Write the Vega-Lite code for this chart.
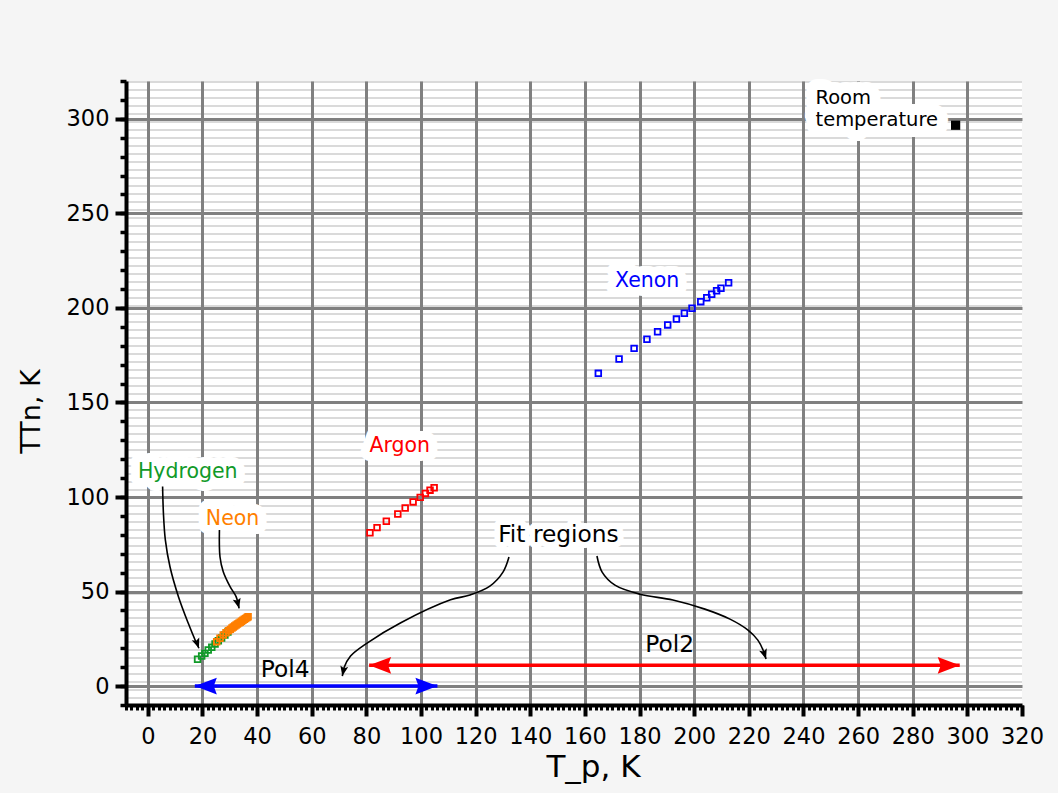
{
"$schema": "https://vega.github.io/schema/vega-lite/v6.json",
"width": 896, "height": 624,
"autosize": {"type": "none"},
"padding": {"left": 126, "top": 81, "right": 36, "bottom": 88},
"background": "#f5f5f5",
"view": {"stroke": null, "fill": {"gradient": "linear", "x1": 0, "y1": 0, "x2": 0, "y2": 1, "stops": [
{"offset":0,"color":"#dadada"},{"offset":0.00321,"color":"#dadada"},{"offset":0.00321,"color":"#fff"},{"offset":0.01282,"color":"#fff"},
{"offset":0.01282,"color":"#dadada"},{"offset":0.01603,"color":"#dadada"},{"offset":0.01603,"color":"#fff"},{"offset":0.02564,"color":"#fff"},
{"offset":0.02564,"color":"#dadada"},{"offset":0.02885,"color":"#dadada"},{"offset":0.02885,"color":"#fff"},{"offset":0.03846,"color":"#fff"},
{"offset":0.03846,"color":"#dadada"},{"offset":0.04167,"color":"#dadada"},{"offset":0.04167,"color":"#fff"},{"offset":0.05128,"color":"#fff"},
{"offset":0.05128,"color":"#dadada"},{"offset":0.05449,"color":"#dadada"},{"offset":0.05449,"color":"#fff"},{"offset":0.0641,"color":"#fff"},
{"offset":0.0641,"color":"#dadada"},{"offset":0.06731,"color":"#dadada"},{"offset":0.06731,"color":"#fff"},{"offset":0.07692,"color":"#fff"},
{"offset":0.07692,"color":"#dadada"},{"offset":0.08013,"color":"#dadada"},{"offset":0.08013,"color":"#fff"},{"offset":0.08974,"color":"#fff"},
{"offset":0.08974,"color":"#dadada"},{"offset":0.09295,"color":"#dadada"},{"offset":0.09295,"color":"#fff"},{"offset":0.10256,"color":"#fff"},
{"offset":0.10256,"color":"#dadada"},{"offset":0.10577,"color":"#dadada"},{"offset":0.10577,"color":"#fff"},{"offset":0.11538,"color":"#fff"},
{"offset":0.11538,"color":"#dadada"},{"offset":0.11859,"color":"#dadada"},{"offset":0.11859,"color":"#fff"},{"offset":0.12821,"color":"#fff"},
{"offset":0.12821,"color":"#dadada"},{"offset":0.13141,"color":"#dadada"},{"offset":0.13141,"color":"#fff"},{"offset":0.14103,"color":"#fff"},
{"offset":0.14103,"color":"#dadada"},{"offset":0.14423,"color":"#dadada"},{"offset":0.14423,"color":"#fff"},{"offset":0.15385,"color":"#fff"},
{"offset":0.15385,"color":"#dadada"},{"offset":0.15705,"color":"#dadada"},{"offset":0.15705,"color":"#fff"},{"offset":0.16667,"color":"#fff"},
{"offset":0.16667,"color":"#dadada"},{"offset":0.16987,"color":"#dadada"},{"offset":0.16987,"color":"#fff"},{"offset":0.17949,"color":"#fff"},
{"offset":0.17949,"color":"#dadada"},{"offset":0.18269,"color":"#dadada"},{"offset":0.18269,"color":"#fff"},{"offset":0.19231,"color":"#fff"},
{"offset":0.19231,"color":"#dadada"},{"offset":0.19551,"color":"#dadada"},{"offset":0.19551,"color":"#fff"},{"offset":0.20513,"color":"#fff"},
{"offset":0.20513,"color":"#dadada"},{"offset":0.20833,"color":"#dadada"},{"offset":0.20833,"color":"#fff"},{"offset":0.21795,"color":"#fff"},
{"offset":0.21795,"color":"#dadada"},{"offset":0.22115,"color":"#dadada"},{"offset":0.22115,"color":"#fff"},{"offset":0.23077,"color":"#fff"},
{"offset":0.23077,"color":"#dadada"},{"offset":0.23397,"color":"#dadada"},{"offset":0.23397,"color":"#fff"},{"offset":0.24359,"color":"#fff"},
{"offset":0.24359,"color":"#dadada"},{"offset":0.24679,"color":"#dadada"},{"offset":0.24679,"color":"#fff"},{"offset":0.25641,"color":"#fff"},
{"offset":0.25641,"color":"#dadada"},{"offset":0.25962,"color":"#dadada"},{"offset":0.25962,"color":"#fff"},{"offset":0.26923,"color":"#fff"},
{"offset":0.26923,"color":"#dadada"},{"offset":0.27244,"color":"#dadada"},{"offset":0.27244,"color":"#fff"},{"offset":0.28205,"color":"#fff"},
{"offset":0.28205,"color":"#dadada"},{"offset":0.28526,"color":"#dadada"},{"offset":0.28526,"color":"#fff"},{"offset":0.29487,"color":"#fff"},
{"offset":0.29487,"color":"#dadada"},{"offset":0.29808,"color":"#dadada"},{"offset":0.29808,"color":"#fff"},{"offset":0.30769,"color":"#fff"},
{"offset":0.30769,"color":"#dadada"},{"offset":0.3109,"color":"#dadada"},{"offset":0.3109,"color":"#fff"},{"offset":0.32051,"color":"#fff"},
{"offset":0.32051,"color":"#dadada"},{"offset":0.32372,"color":"#dadada"},{"offset":0.32372,"color":"#fff"},{"offset":0.33333,"color":"#fff"},
{"offset":0.33333,"color":"#dadada"},{"offset":0.33654,"color":"#dadada"},{"offset":0.33654,"color":"#fff"},{"offset":0.34615,"color":"#fff"},
{"offset":0.34615,"color":"#dadada"},{"offset":0.34936,"color":"#dadada"},{"offset":0.34936,"color":"#fff"},{"offset":0.35897,"color":"#fff"},
{"offset":0.35897,"color":"#dadada"},{"offset":0.36218,"color":"#dadada"},{"offset":0.36218,"color":"#fff"},{"offset":0.37179,"color":"#fff"},
{"offset":0.37179,"color":"#dadada"},{"offset":0.375,"color":"#dadada"},{"offset":0.375,"color":"#fff"},{"offset":0.38462,"color":"#fff"},
{"offset":0.38462,"color":"#dadada"},{"offset":0.38782,"color":"#dadada"},{"offset":0.38782,"color":"#fff"},{"offset":0.39744,"color":"#fff"},
{"offset":0.39744,"color":"#dadada"},{"offset":0.40064,"color":"#dadada"},{"offset":0.40064,"color":"#fff"},{"offset":0.41026,"color":"#fff"},
{"offset":0.41026,"color":"#dadada"},{"offset":0.41346,"color":"#dadada"},{"offset":0.41346,"color":"#fff"},{"offset":0.42308,"color":"#fff"},
{"offset":0.42308,"color":"#dadada"},{"offset":0.42628,"color":"#dadada"},{"offset":0.42628,"color":"#fff"},{"offset":0.4359,"color":"#fff"},
{"offset":0.4359,"color":"#dadada"},{"offset":0.4391,"color":"#dadada"},{"offset":0.4391,"color":"#fff"},{"offset":0.44872,"color":"#fff"},
{"offset":0.44872,"color":"#dadada"},{"offset":0.45192,"color":"#dadada"},{"offset":0.45192,"color":"#fff"},{"offset":0.46154,"color":"#fff"},
{"offset":0.46154,"color":"#dadada"},{"offset":0.46474,"color":"#dadada"},{"offset":0.46474,"color":"#fff"},{"offset":0.47436,"color":"#fff"},
{"offset":0.47436,"color":"#dadada"},{"offset":0.47756,"color":"#dadada"},{"offset":0.47756,"color":"#fff"},{"offset":0.48718,"color":"#fff"},
{"offset":0.48718,"color":"#dadada"},{"offset":0.49038,"color":"#dadada"},{"offset":0.49038,"color":"#fff"},{"offset":0.5,"color":"#fff"},
{"offset":0.5,"color":"#dadada"},{"offset":0.50321,"color":"#dadada"},{"offset":0.50321,"color":"#fff"},{"offset":0.51282,"color":"#fff"},
{"offset":0.51282,"color":"#dadada"},{"offset":0.51603,"color":"#dadada"},{"offset":0.51603,"color":"#fff"},{"offset":0.52564,"color":"#fff"},
{"offset":0.52564,"color":"#dadada"},{"offset":0.52885,"color":"#dadada"},{"offset":0.52885,"color":"#fff"},{"offset":0.53846,"color":"#fff"},
{"offset":0.53846,"color":"#dadada"},{"offset":0.54167,"color":"#dadada"},{"offset":0.54167,"color":"#fff"},{"offset":0.55128,"color":"#fff"},
{"offset":0.55128,"color":"#dadada"},{"offset":0.55449,"color":"#dadada"},{"offset":0.55449,"color":"#fff"},{"offset":0.5641,"color":"#fff"},
{"offset":0.5641,"color":"#dadada"},{"offset":0.56731,"color":"#dadada"},{"offset":0.56731,"color":"#fff"},{"offset":0.57692,"color":"#fff"},
{"offset":0.57692,"color":"#dadada"},{"offset":0.58013,"color":"#dadada"},{"offset":0.58013,"color":"#fff"},{"offset":0.58974,"color":"#fff"},
{"offset":0.58974,"color":"#dadada"},{"offset":0.59295,"color":"#dadada"},{"offset":0.59295,"color":"#fff"},{"offset":0.60256,"color":"#fff"},
{"offset":0.60256,"color":"#dadada"},{"offset":0.60577,"color":"#dadada"},{"offset":0.60577,"color":"#fff"},{"offset":0.61538,"color":"#fff"},
{"offset":0.61538,"color":"#dadada"},{"offset":0.61859,"color":"#dadada"},{"offset":0.61859,"color":"#fff"},{"offset":0.62821,"color":"#fff"},
{"offset":0.62821,"color":"#dadada"},{"offset":0.63141,"color":"#dadada"},{"offset":0.63141,"color":"#fff"},{"offset":0.64103,"color":"#fff"},
{"offset":0.64103,"color":"#dadada"},{"offset":0.64423,"color":"#dadada"},{"offset":0.64423,"color":"#fff"},{"offset":0.65385,"color":"#fff"},
{"offset":0.65385,"color":"#dadada"},{"offset":0.65705,"color":"#dadada"},{"offset":0.65705,"color":"#fff"},{"offset":0.66667,"color":"#fff"},
{"offset":0.66667,"color":"#dadada"},{"offset":0.66987,"color":"#dadada"},{"offset":0.66987,"color":"#fff"},{"offset":0.67949,"color":"#fff"},
{"offset":0.67949,"color":"#dadada"},{"offset":0.68269,"color":"#dadada"},{"offset":0.68269,"color":"#fff"},{"offset":0.69231,"color":"#fff"},
{"offset":0.69231,"color":"#dadada"},{"offset":0.69551,"color":"#dadada"},{"offset":0.69551,"color":"#fff"},{"offset":0.70513,"color":"#fff"},
{"offset":0.70513,"color":"#dadada"},{"offset":0.70833,"color":"#dadada"},{"offset":0.70833,"color":"#fff"},{"offset":0.71795,"color":"#fff"},
{"offset":0.71795,"color":"#dadada"},{"offset":0.72115,"color":"#dadada"},{"offset":0.72115,"color":"#fff"},{"offset":0.73077,"color":"#fff"},
{"offset":0.73077,"color":"#dadada"},{"offset":0.73397,"color":"#dadada"},{"offset":0.73397,"color":"#fff"},{"offset":0.74359,"color":"#fff"},
{"offset":0.74359,"color":"#dadada"},{"offset":0.74679,"color":"#dadada"},{"offset":0.74679,"color":"#fff"},{"offset":0.75641,"color":"#fff"},
{"offset":0.75641,"color":"#dadada"},{"offset":0.75962,"color":"#dadada"},{"offset":0.75962,"color":"#fff"},{"offset":0.76923,"color":"#fff"},
{"offset":0.76923,"color":"#dadada"},{"offset":0.77244,"color":"#dadada"},{"offset":0.77244,"color":"#fff"},{"offset":0.78205,"color":"#fff"},
{"offset":0.78205,"color":"#dadada"},{"offset":0.78526,"color":"#dadada"},{"offset":0.78526,"color":"#fff"},{"offset":0.79487,"color":"#fff"},
{"offset":0.79487,"color":"#dadada"},{"offset":0.79808,"color":"#dadada"},{"offset":0.79808,"color":"#fff"},{"offset":0.80769,"color":"#fff"},
{"offset":0.80769,"color":"#dadada"},{"offset":0.8109,"color":"#dadada"},{"offset":0.8109,"color":"#fff"},{"offset":0.82051,"color":"#fff"},
{"offset":0.82051,"color":"#dadada"},{"offset":0.82372,"color":"#dadada"},{"offset":0.82372,"color":"#fff"},{"offset":0.83333,"color":"#fff"},
{"offset":0.83333,"color":"#dadada"},{"offset":0.83654,"color":"#dadada"},{"offset":0.83654,"color":"#fff"},{"offset":0.84615,"color":"#fff"},
{"offset":0.84615,"color":"#dadada"},{"offset":0.84936,"color":"#dadada"},{"offset":0.84936,"color":"#fff"},{"offset":0.85897,"color":"#fff"},
{"offset":0.85897,"color":"#dadada"},{"offset":0.86218,"color":"#dadada"},{"offset":0.86218,"color":"#fff"},{"offset":0.87179,"color":"#fff"},
{"offset":0.87179,"color":"#dadada"},{"offset":0.875,"color":"#dadada"},{"offset":0.875,"color":"#fff"},{"offset":0.88462,"color":"#fff"},
{"offset":0.88462,"color":"#dadada"},{"offset":0.88782,"color":"#dadada"},{"offset":0.88782,"color":"#fff"},{"offset":0.89744,"color":"#fff"},
{"offset":0.89744,"color":"#dadada"},{"offset":0.90064,"color":"#dadada"},{"offset":0.90064,"color":"#fff"},{"offset":0.91026,"color":"#fff"},
{"offset":0.91026,"color":"#dadada"},{"offset":0.91346,"color":"#dadada"},{"offset":0.91346,"color":"#fff"},{"offset":0.92308,"color":"#fff"},
{"offset":0.92308,"color":"#dadada"},{"offset":0.92628,"color":"#dadada"},{"offset":0.92628,"color":"#fff"},{"offset":0.9359,"color":"#fff"},
{"offset":0.9359,"color":"#dadada"},{"offset":0.9391,"color":"#dadada"},{"offset":0.9391,"color":"#fff"},{"offset":0.94872,"color":"#fff"},
{"offset":0.94872,"color":"#dadada"},{"offset":0.95192,"color":"#dadada"},{"offset":0.95192,"color":"#fff"},{"offset":0.96154,"color":"#fff"},
{"offset":0.96154,"color":"#dadada"},{"offset":0.96474,"color":"#dadada"},{"offset":0.96474,"color":"#fff"},{"offset":0.97436,"color":"#fff"},
{"offset":0.97436,"color":"#dadada"},{"offset":0.97756,"color":"#dadada"},{"offset":0.97756,"color":"#fff"},{"offset":0.98718,"color":"#fff"},
{"offset":0.98718,"color":"#dadada"},{"offset":0.99038,"color":"#dadada"},{"offset":0.99038,"color":"#fff"},{"offset":1,"color":"#fff"}
]}},
"config": {"font": "DejaVu Sans", "axis": {"labelFont": "DejaVu Sans", "titleFont": "DejaVu Sans"}},
"datasets": {
"points": [
{"gas":"Hydrogen","Tp":18.2,"Tn":14.2},{"gas":"Hydrogen","Tp":19.7,"Tn":15.9},{"gas":"Hydrogen","Tp":20.9,"Tn":17.3},{"gas":"Hydrogen","Tp":22.1,"Tn":19.1},{"gas":"Hydrogen","Tp":23.4,"Tn":20.5},{"gas":"Hydrogen","Tp":24.6,"Tn":22.3},{"gas":"Hydrogen","Tp":25.8,"Tn":24.0},{"gas":"Hydrogen","Tp":27.0,"Tn":25.4},{"gas":"Hydrogen","Tp":28.2,"Tn":27.0},{"gas":"Hydrogen","Tp":29.3,"Tn":28.6},
{"gas":"Neon","Tp":25.2,"Tn":23.5},{"gas":"Neon","Tp":26.4,"Tn":25.3},{"gas":"Neon","Tp":27.6,"Tn":27.0},{"gas":"Neon","Tp":28.6,"Tn":28.2},{"gas":"Neon","Tp":29.5,"Tn":29.3},{"gas":"Neon","Tp":30.2,"Tn":30.0},{"gas":"Neon","Tp":30.8,"Tn":30.7},{"gas":"Neon","Tp":31.3,"Tn":31.2},{"gas":"Neon","Tp":31.8,"Tn":31.8},{"gas":"Neon","Tp":32.3,"Tn":32.3},{"gas":"Neon","Tp":32.8,"Tn":32.8},{"gas":"Neon","Tp":33.3,"Tn":33.3},{"gas":"Neon","Tp":33.8,"Tn":33.8},{"gas":"Neon","Tp":34.3,"Tn":34.3},{"gas":"Neon","Tp":34.8,"Tn":34.8},{"gas":"Neon","Tp":35.3,"Tn":35.3},{"gas":"Neon","Tp":35.8,"Tn":35.8},{"gas":"Neon","Tp":36.3,"Tn":36.3},{"gas":"Neon","Tp":36.7,"Tn":36.7},
{"gas":"Argon","Tp":81.3,"Tn":81.1},{"gas":"Argon","Tp":83.9,"Tn":83.8},{"gas":"Argon","Tp":87.3,"Tn":87.2},{"gas":"Argon","Tp":91.5,"Tn":91.0},{"gas":"Argon","Tp":94.2,"Tn":94.2},{"gas":"Argon","Tp":97.1,"Tn":97.4},{"gas":"Argon","Tp":99.7,"Tn":99.8},{"gas":"Argon","Tp":101.6,"Tn":101.9},{"gas":"Argon","Tp":103.3,"Tn":103.6},{"gas":"Argon","Tp":104.8,"Tn":104.9},
{"gas":"Xenon","Tp":164.9,"Tn":165.4},{"gas":"Xenon","Tp":172.5,"Tn":173.0},{"gas":"Xenon","Tp":178.0,"Tn":178.6},{"gas":"Xenon","Tp":182.7,"Tn":183.4},{"gas":"Xenon","Tp":186.6,"Tn":187.4},{"gas":"Xenon","Tp":190.3,"Tn":191.0},{"gas":"Xenon","Tp":193.5,"Tn":194.1},{"gas":"Xenon","Tp":196.4,"Tn":197.2},{"gas":"Xenon","Tp":199.2,"Tn":199.8},{"gas":"Xenon","Tp":202.4,"Tn":203.3},{"gas":"Xenon","Tp":204.6,"Tn":205.4},{"gas":"Xenon","Tp":206.4,"Tn":207.2},{"gas":"Xenon","Tp":208.2,"Tn":209.1},{"gas":"Xenon","Tp":209.8,"Tn":210.4},{"gas":"Xenon","Tp":212.6,"Tn":213.3}
],
"room": [{"label":"Room\ntemperature","Tp":244.4,"Tn":307.7,"Tpx":295.7,"Tnx":296.6}],
"labels": [
{"gas":"Hydrogen","Tp":14.6,"Tn":113.0},{"gas":"Neon","Tp":31.0,"Tn":88.5},{"gas":"Argon","Tp":92.2,"Tn":127.1},{"gas":"Xenon","Tp":182.8,"Tn":214.3}
],
"fitlabels": [
{"label":"Fit regions","Tp":150.3,"Tn":79.9},{"label":"Pol4","Tp":50.3,"Tn":8.6},{"label":"Pol2","Tp":191.0,"Tn":21.5}
],
"ranges": [
{"fit":"Pol4","from":17.2,"to":106.0,"Tn":0},{"fit":"Pol2","from":81.0,"to":297.2,"Tn":11}
],
"curves": [
{"arrow":"Hydrogen","i":1,"Tp":5.4,"Tn":105.5},{"arrow":"Hydrogen","i":2,"Tp":5.7,"Tn":91.4},{"arrow":"Hydrogen","i":3,"Tp":6.4,"Tn":77.3},{"arrow":"Hydrogen","i":4,"Tp":8.1,"Tn":63.1},{"arrow":"Hydrogen","i":5,"Tp":11.2,"Tn":47.3},{"arrow":"Hydrogen","i":6,"Tp":14.8,"Tn":33.2},{"arrow":"Hydrogen","i":7,"Tp":17.3,"Tn":24.4},{"arrow":"Hydrogen","i":8,"Tp":18.7,"Tn":20.0},
{"arrow":"Neon","i":1,"Tp":26.2,"Tn":82.6},{"arrow":"Neon","i":2,"Tp":26.4,"Tn":68.4},{"arrow":"Neon","i":3,"Tp":27.6,"Tn":60.5},{"arrow":"Neon","i":4,"Tp":30.1,"Tn":52.6},{"arrow":"Neon","i":5,"Tp":32.3,"Tn":47.3},{"arrow":"Neon","i":6,"Tp":33.4,"Tn":41.1},
{"arrow":"FitLeft","i":1,"Tp":132.2,"Tn":68.3},{"arrow":"FitLeft","i":2,"Tp":130.0,"Tn":60.3},{"arrow":"FitLeft","i":3,"Tp":125.2,"Tn":52.9},{"arrow":"FitLeft","i":4,"Tp":117.9,"Tn":48.2},{"arrow":"FitLeft","i":5,"Tp":110.8,"Tn":45.6},{"arrow":"FitLeft","i":6,"Tp":92.6,"Tn":33.5},{"arrow":"FitLeft","i":7,"Tp":80.4,"Tn":22.9},{"arrow":"FitLeft","i":8,"Tp":74.2,"Tn":15.9},{"arrow":"FitLeft","i":9,"Tp":71.8,"Tn":9.7},{"arrow":"FitLeft","i":10,"Tp":71.2,"Tn":5.3},
{"arrow":"FitRight","i":1,"Tp":164.4,"Tn":68.8},{"arrow":"FitRight","i":2,"Tp":166.3,"Tn":60.3},{"arrow":"FitRight","i":3,"Tp":171.0,"Tn":53.4},{"arrow":"FitRight","i":4,"Tp":180.2,"Tn":48.6},{"arrow":"FitRight","i":5,"Tp":192.2,"Tn":45.5},{"arrow":"FitRight","i":6,"Tp":203.9,"Tn":40.7},{"arrow":"FitRight","i":7,"Tp":213.1,"Tn":35.4},{"arrow":"FitRight","i":8,"Tp":219.7,"Tn":29.6},{"arrow":"FitRight","i":9,"Tp":223.3,"Tn":24.3},{"arrow":"FitRight","i":10,"Tp":225.2,"Tn":19.1},{"arrow":"FitRight","i":11,"Tp":226.3,"Tn":14.3}
],
"tips": [
{"arrow":"Hydrogen","Tp":18.7,"Tn":20.0},{"arrow":"Neon","Tp":33.4,"Tn":41.1},{"arrow":"FitLeft","Tp":71.2,"Tn":5.3},{"arrow":"FitRight","Tp":226.3,"Tn":14.3}
]
},
"resolve": {"axis": {"x": "independent", "y": "independent"}},
"layer": [
{"data": {"name": "labels"},
 "mark": {"type": "text", "font": "DejaVu Sans", "fontSize": 20.5, "fill": "white", "stroke": "white", "strokeWidth": 18, "strokeJoin": "round"},
 "encoding": {
  "x": {"field": "Tp", "type": "quantitative", "scale": {"domain": [-8, 320], "nice": false, "zero": false},
        "axis": {"orient": "bottom", "values": [0,20,40,60,80,100,120,140,160,180,200,220,240,260,280,300], "grid": true, "gridColor": "#808080", "gridWidth": 3, "gridOpacity": 1, "ticks": false, "labels": false, "domain": false, "title": null}},
  "y": {"field": "Tn", "type": "quantitative", "scale": {"domain": [-10, 320], "nice": false, "zero": false},
        "axis": {"orient": "left", "values": [0,50,100,150,200,250,300], "grid": true, "gridColor": "#808080", "gridWidth": 3, "gridOpacity": 1, "ticks": false, "labels": false, "domain": false, "title": null}},
  "text": {"field": "gas"}
 }},
{"data": {"name": "room"},
 "mark": {"type": "text", "font": "DejaVu Sans", "fontSize": 19.5, "lineBreak": "\n", "lineHeight": 22, "align": "left", "baseline": "alphabetic", "fill": "white", "stroke": "white", "strokeWidth": 22, "strokeJoin": "round"},
 "encoding": {
  "x": {"field": "Tp", "type": "quantitative", "scale": {"domain": [-8, 320], "nice": false, "zero": false}, "axis": null},
  "y": {"field": "Tn", "type": "quantitative", "scale": {"domain": [-10, 320], "nice": false, "zero": false}, "axis": null},
  "text": {"field": "label"}
 }},
{"data": {"name": "fitlabels"},
 "transform": [{"filter": "datum.label === 'Fit regions'"}],
 "mark": {"type": "text", "font": "DejaVu Sans", "fontSize": 23.3, "fill": "white", "stroke": "white", "strokeWidth": 12, "strokeJoin": "round"},
 "encoding": {
  "x": {"field": "Tp", "type": "quantitative", "scale": {"domain": [-8, 320], "nice": false, "zero": false}, "axis": null},
  "y": {"field": "Tn", "type": "quantitative", "scale": {"domain": [-10, 320], "nice": false, "zero": false}, "axis": null},
  "text": {"field": "label"}
 }},
{"data": {"name": "curves"},
 "mark": {"type": "line", "interpolate": "catmull-rom", "color": "black", "strokeWidth": 1.6},
 "encoding": {
  "x": {"field": "Tp", "type": "quantitative", "scale": {"domain": [-8, 320], "nice": false, "zero": false},
        "axis": {"orient": "bottom", "values": [0,20,40,60,80,100,120,140,160,180,200,220,240,260,280,300,320], "grid": false, "domain": true, "domainColor": "black", "domainWidth": 4, "ticks": true, "tickColor": "black", "tickWidth": 4, "tickSize": 11, "labels": true, "labelFontSize": 22.5, "labelColor": "black", "labelPadding": 9, "labelFlush": false, "labelOverlap": false, "labelBound": false,
                 "title": "T_p, K", "titleFontSize": 31, "titleFontWeight": "normal", "titleColor": "black", "titleX": 467, "titleY": 71, "titleAlign": "center", "titleBaseline": "alphabetic", "zindex": 1}},
  "y": {"field": "Tn", "type": "quantitative", "scale": {"domain": [-10, 320], "nice": false, "zero": false},
        "axis": {"orient": "left", "values": [0,50,100,150,200,250,300], "grid": false, "domain": true, "domainColor": "black", "domainWidth": 4, "ticks": true, "tickColor": "black", "tickWidth": 4, "tickSize": 11, "labels": true, "labelFontSize": 22.5, "labelColor": "black", "labelPadding": 6, "labelFlush": false, "labelOverlap": false, "labelBound": false,
                 "title": "TTn, K", "titleFontSize": 27, "titleFontWeight": "normal", "titleColor": "black", "titleX": -95, "titleY": 330, "titleAngle": -90, "titleAlign": "center", "titleBaseline": "middle", "zindex": 1}},
  "detail": {"field": "arrow"},
  "order": {"field": "i", "type": "quantitative"}
 }},
{"data": {"name": "tips"},
 "transform": [{"filter": "datum.arrow === 'Hydrogen'"}],
 "mark": {"type": "point", "shape": "M0,0L-0.4,-1L0,-0.8L0.4,-1Z", "size": 400, "filled": true, "color": "black", "opacity": 1, "strokeWidth": 0, "angle": -20},
 "encoding": {
  "x": {"field": "Tp", "type": "quantitative", "scale": {"domain": [-8, 320], "nice": false, "zero": false}, "axis": null},
  "y": {"field": "Tn", "type": "quantitative", "scale": {"domain": [-10, 320], "nice": false, "zero": false}, "axis": null}
 }},
{"data": {"name": "tips"},
 "transform": [{"filter": "datum.arrow === 'Neon'"}],
 "mark": {"type": "point", "shape": "M0,0L-0.4,-1L0,-0.8L0.4,-1Z", "size": 400, "filled": true, "color": "black", "opacity": 1, "strokeWidth": 0, "angle": -14},
 "encoding": {
  "x": {"field": "Tp", "type": "quantitative", "scale": {"domain": [-8, 320], "nice": false, "zero": false}, "axis": null},
  "y": {"field": "Tn", "type": "quantitative", "scale": {"domain": [-10, 320], "nice": false, "zero": false}, "axis": null}
 }},
{"data": {"name": "tips"},
 "transform": [{"filter": "datum.arrow === 'FitLeft'"}],
 "mark": {"type": "point", "shape": "M0,0L-0.4,-1L0,-0.8L0.4,-1Z", "size": 400, "filled": true, "color": "black", "opacity": 1, "strokeWidth": 0, "angle": 11},
 "encoding": {
  "x": {"field": "Tp", "type": "quantitative", "scale": {"domain": [-8, 320], "nice": false, "zero": false}, "axis": null},
  "y": {"field": "Tn", "type": "quantitative", "scale": {"domain": [-10, 320], "nice": false, "zero": false}, "axis": null}
 }},
{"data": {"name": "tips"},
 "transform": [{"filter": "datum.arrow === 'FitRight'"}],
 "mark": {"type": "point", "shape": "M0,0L-0.4,-1L0,-0.8L0.4,-1Z", "size": 400, "filled": true, "color": "black", "opacity": 1, "strokeWidth": 0, "angle": -18},
 "encoding": {
  "x": {"field": "Tp", "type": "quantitative", "scale": {"domain": [-8, 320], "nice": false, "zero": false}, "axis": null},
  "y": {"field": "Tn", "type": "quantitative", "scale": {"domain": [-10, 320], "nice": false, "zero": false}, "axis": null}
 }},
{"data": {"name": "ranges"},
 "mark": {"type": "rule", "strokeWidth": 3.5, "strokeCap": "butt"},
 "encoding": {
  "x": {"field": "from", "type": "quantitative", "scale": {"domain": [-8, 320], "nice": false, "zero": false}, "axis": null},
  "x2": {"field": "to"},
  "y": {"field": "Tn", "type": "quantitative", "scale": {"domain": [-10, 320], "nice": false, "zero": false}, "axis": null},
  "color": {"field": "fit", "type": "nominal", "scale": {"domain": ["Hydrogen","Neon","Argon","Xenon","Pol4","Pol2"], "range": ["#109a28","#ff7f00","#ff0000","#0000ff","#0000ff","#ff0000"]}, "legend": null}
 }},
{"data": {"name": "ranges"},
 "mark": {"type": "point", "shape": "M0,0L1,-0.38L0.86,0L1,0.38Z", "size": 1936, "filled": true, "opacity": 1, "strokeWidth": 0},
 "encoding": {
  "x": {"field": "from", "type": "quantitative", "scale": {"domain": [-8, 320], "nice": false, "zero": false}, "axis": null},
  "y": {"field": "Tn", "type": "quantitative", "scale": {"domain": [-10, 320], "nice": false, "zero": false}, "axis": null},
  "color": {"field": "fit", "type": "nominal", "scale": {"domain": ["Hydrogen","Neon","Argon","Xenon","Pol4","Pol2"], "range": ["#109a28","#ff7f00","#ff0000","#0000ff","#0000ff","#ff0000"]}, "legend": null}
 }},
{"data": {"name": "ranges"},
 "mark": {"type": "point", "shape": "M0,0L-1,-0.38L-0.86,0L-1,0.38Z", "size": 1936, "filled": true, "opacity": 1, "strokeWidth": 0},
 "encoding": {
  "x": {"field": "to", "type": "quantitative", "scale": {"domain": [-8, 320], "nice": false, "zero": false}, "axis": null},
  "y": {"field": "Tn", "type": "quantitative", "scale": {"domain": [-10, 320], "nice": false, "zero": false}, "axis": null},
  "color": {"field": "fit", "type": "nominal", "scale": {"domain": ["Hydrogen","Neon","Argon","Xenon","Pol4","Pol2"], "range": ["#109a28","#ff7f00","#ff0000","#0000ff","#0000ff","#ff0000"]}, "legend": null}
 }},
{"data": {"name": "points"},
 "mark": {"type": "point", "shape": "square", "size": 32, "filled": false, "strokeWidth": 1.8, "opacity": 1},
 "encoding": {
  "x": {"field": "Tp", "type": "quantitative", "scale": {"domain": [-8, 320], "nice": false, "zero": false},
        "axis": {"orient": "bottom", "values": [-8,-6,-4,-2,0,2,4,6,8,10,12,14,16,18,20,22,24,26,28,30,32,34,36,38,40,42,44,46,48,50,52,54,56,58,60,62,64,66,68,70,72,74,76,78,80,82,84,86,88,90,92,94,96,98,100,102,104,106,108,110,112,114,116,118,120,122,124,126,128,130,132,134,136,138,140,142,144,146,148,150,152,154,156,158,160,162,164,166,168,170,172,174,176,178,180,182,184,186,188,190,192,194,196,198,200,202,204,206,208,210,212,214,216,218,220,222,224,226,228,230,232,234,236,238,240,242,244,246,248,250,252,254,256,258,260,262,264,266,268,270,272,274,276,278,280,282,284,286,288,290,292,294,296,298,300,302,304,306,308,310,312,314,316,318,320],
                 "grid": false, "domain": false, "labels": false, "ticks": true, "tickColor": "black", "tickWidth": 3, "tickSize": 5, "title": null, "zindex": 1}},
  "y": {"field": "Tn", "type": "quantitative", "scale": {"domain": [-10, 320], "nice": false, "zero": false},
        "axis": {"orient": "left", "values": [-10,0,10,20,30,40,50,60,70,80,90,100,110,120,130,140,150,160,170,180,190,200,210,220,230,240,250,260,270,280,290,300,310,320],
                 "grid": false, "domain": false, "labels": false, "ticks": true, "tickColor": "black", "tickWidth": 3.5, "tickSize": 6, "title": null, "zindex": 1}},
  "color": {"field": "gas", "type": "nominal", "scale": {"domain": ["Hydrogen","Neon","Argon","Xenon","Pol4","Pol2"], "range": ["#109a28","#ff7f00","#ff0000","#0000ff","#0000ff","#ff0000"]}, "legend": null}
 }},
{"data": {"name": "room"},
 "mark": {"type": "point", "shape": "square", "size": 85, "filled": true, "color": "black", "opacity": 1},
 "encoding": {
  "x": {"field": "Tpx", "type": "quantitative", "scale": {"domain": [-8, 320], "nice": false, "zero": false}, "axis": null},
  "y": {"field": "Tnx", "type": "quantitative", "scale": {"domain": [-10, 320], "nice": false, "zero": false}, "axis": null}
 }},
{"data": {"name": "labels"},
 "mark": {"type": "text", "font": "DejaVu Sans", "fontSize": 20.5},
 "encoding": {
  "x": {"field": "Tp", "type": "quantitative", "scale": {"domain": [-8, 320], "nice": false, "zero": false}, "axis": null},
  "y": {"field": "Tn", "type": "quantitative", "scale": {"domain": [-10, 320], "nice": false, "zero": false}, "axis": null},
  "text": {"field": "gas"},
  "color": {"field": "gas", "type": "nominal", "scale": {"domain": ["Hydrogen","Neon","Argon","Xenon","Pol4","Pol2"], "range": ["#109a28","#ff7f00","#ff0000","#0000ff","#0000ff","#ff0000"]}, "legend": null}
 }},
{"data": {"name": "room"},
 "mark": {"type": "text", "font": "DejaVu Sans", "fontSize": 19.5, "lineBreak": "\n", "lineHeight": 22, "align": "left", "baseline": "alphabetic", "color": "black"},
 "encoding": {
  "x": {"field": "Tp", "type": "quantitative", "scale": {"domain": [-8, 320], "nice": false, "zero": false}, "axis": null},
  "y": {"field": "Tn", "type": "quantitative", "scale": {"domain": [-10, 320], "nice": false, "zero": false}, "axis": null},
  "text": {"field": "label"}
 }},
{"data": {"name": "fitlabels"},
 "mark": {"type": "text", "font": "DejaVu Sans", "fontSize": 23.3, "color": "black"},
 "encoding": {
  "x": {"field": "Tp", "type": "quantitative", "scale": {"domain": [-8, 320], "nice": false, "zero": false}, "axis": null},
  "y": {"field": "Tn", "type": "quantitative", "scale": {"domain": [-10, 320], "nice": false, "zero": false}, "axis": null},
  "text": {"field": "label"}
 }}
]
}
